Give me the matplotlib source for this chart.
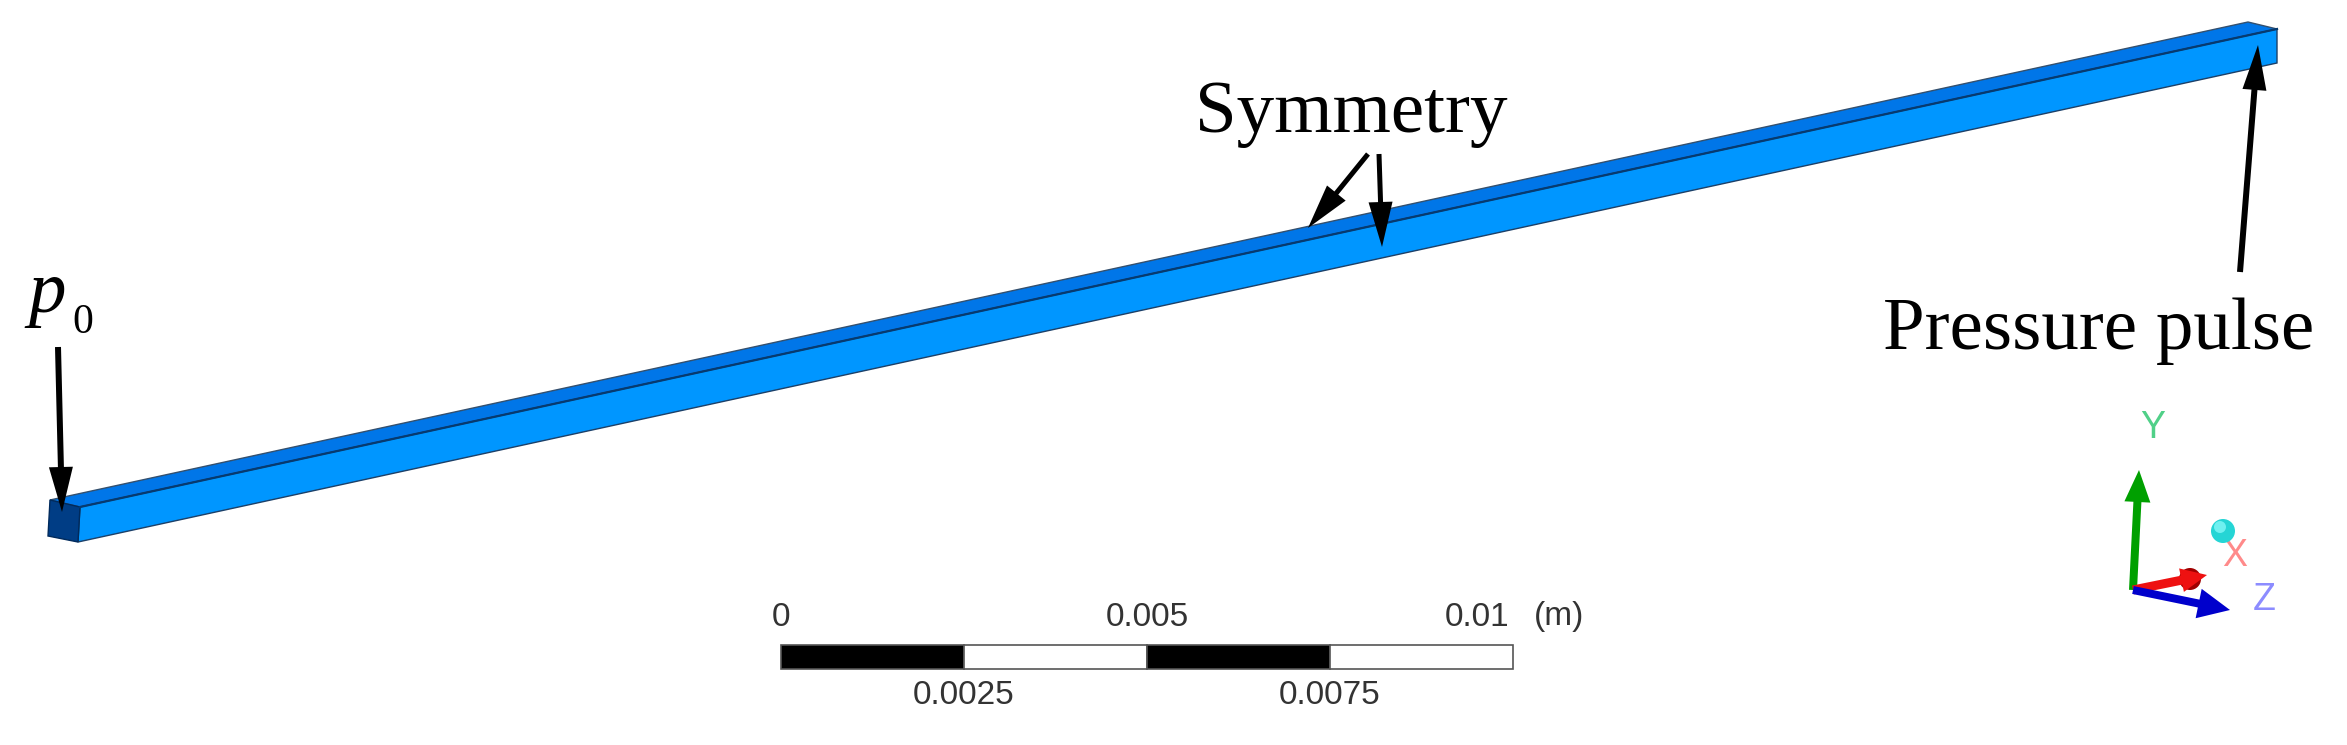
import matplotlib
matplotlib.use("Agg")
import matplotlib.pyplot as plt
from matplotlib.patches import Polygon, Circle, Rectangle

# channel faces, in image pixels
top_x = [50, 2248, 2277, 80]
top_y = [500, 22, 29, 507]
side_x = [80, 2277, 2277, 78]
side_y = [507, 29, 63, 542]
end_x = [50, 80, 78, 48]
end_y = [500, 507, 542, 536]

# scale bar
scale_ticks = [0, 0.0025, 0.005, 0.0075, 0.01]
scale_top = ["0", "0.005", "0.01"]
scale_bottom = ["0.0025", "0.0075"]

serif = "Liberation Serif"
sans = "Liberation Sans"

fig = plt.figure(figsize=(23.47, 7.45), dpi=100)
ax = fig.add_axes([0, 0, 1, 1])
ax.set_xlim(0, 2347)
ax.set_ylim(745, 0)
ax.axis("off")

# the channel
ax.add_patch(Polygon(list(zip(top_x, top_y)), fc="#0076e8", ec="#34506e", lw=1.0))
ax.add_patch(Polygon(list(zip(side_x, side_y)), fc="#0096ff", ec="#1c4068", lw=1.0))
ax.add_patch(Polygon(list(zip(end_x, end_y)), fc="#003d85", ec="#002a5c", lw=1.0))
ax.plot(side_x[:2], side_y[:2], color="#063a70", lw=1.6)


def arrow(x0, y0, x1, y1, width=5, head_w=24, head_l=45, color="black", z=5):
    ax.arrow(x0, y0, x1 - x0, y1 - y0, width=width, head_width=head_w, head_length=head_l,
             length_includes_head=True, fc=color, ec=color, lw=0, zorder=z)


# annotations
arrow(58, 347, 62, 512, width=6)
arrow(1368, 154, 1308, 228)
arrow(1379, 154, 1382, 247)
arrow(2240, 272, 2258, 45, width=6)

ax.text(28, 312, "p", family=serif, style="italic", fontsize=54, va="baseline", ha="left")
ax.text(72, 333, "0", family=serif, fontsize=30, va="baseline", ha="left")
ax.text(1195, 132, "Symmetry", family=serif, fontsize=54, va="baseline", ha="left")
ax.text(1883, 349, "Pressure pulse", family=serif, fontsize=54, va="baseline", ha="left")

# scale bar
bar_left = 781
bar_right = 1513
bar_y = 645
bar_h = 24
px = (bar_right - bar_left) / scale_ticks[-1]
for i in range(len(scale_ticks) - 1):
    x0 = bar_left + scale_ticks[i] * px
    w = (scale_ticks[i + 1] - scale_ticks[i]) * px
    ax.add_patch(Rectangle((x0, bar_y), w, bar_h, fc="black" if i % 2 == 0 else "white",
                           ec="#555555", lw=1.2))

grey = "#333333"
ax.text(bar_left, 617, scale_top[0], family=sans, fontsize=24, color=grey, ha="center", va="center")
ax.text(bar_left + scale_ticks[2] * px, 617, scale_top[1], family=sans, fontsize=24, color=grey, ha="center", va="center")
ax.text(1509, 617, scale_top[2], family=sans, fontsize=24, color=grey, ha="right", va="center")
ax.text(1534, 617, "(m)", family=sans, fontsize=24, color=grey, ha="left", va="center")
ax.text(bar_left + scale_ticks[1] * px, 696, scale_bottom[0], family=sans, fontsize=24, color=grey, ha="center", va="center")
ax.text(bar_left + scale_ticks[3] * px, 696, scale_bottom[1], family=sans, fontsize=24, color=grey, ha="center", va="center")

# axis triad
arrow(2133, 590, 2139, 470, width=8, head_w=26, head_l=32, color="#00a000", z=3)
arrow(2133, 590, 2207, 575, width=9, head_w=24, head_l=26, color="#ee1111", z=4)
ax.add_patch(Circle((2190, 579), 11, fc="#a00000", ec="none", zorder=3.5))
arrow(2133, 590, 2230, 610, width=8, head_w=30, head_l=32, color="#0000cc", z=5)
ax.add_patch(Circle((2223, 531), 12, fc="#25d5d5", ec="none", zorder=4))
ax.add_patch(Circle((2220, 527), 6, fc="#70f0f0", ec="none", zorder=4.1))
ax.text(2153, 428, "Y", family=sans, fontsize=27, color="#50d088", ha="center", va="center")
ax.text(2235, 556, "X", family=sans, fontsize=27, color="#ff8a8a", ha="center", va="center")
ax.text(2264, 600, "Z", family=sans, fontsize=27, color="#8c8cff", ha="center", va="center")

fig.savefig("out.png", dpi=100)
